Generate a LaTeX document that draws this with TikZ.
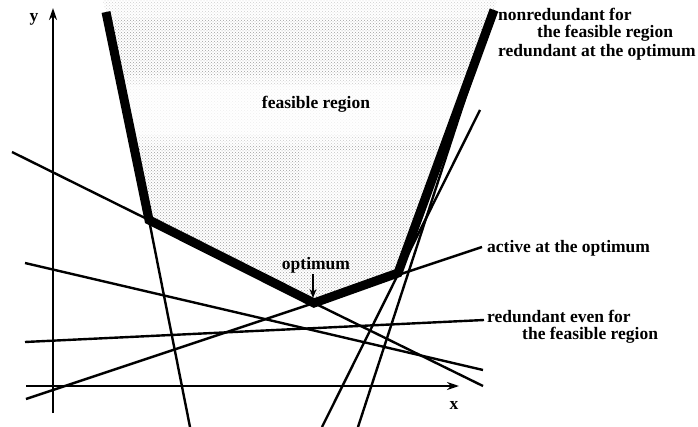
\documentclass[tikz,border=0pt]{standalone}
\usepackage{fontspec}
\setmainfont{Liberation Serif}
\usetikzlibrary{patterns,arrows.meta}
\begin{document}
\begin{tikzpicture}[x=1pt,y=-1pt,
  thinline/.style={line width=2.4pt},
  thickline/.style={line width=9pt,line join=miter},
  axisline/.style={line width=2.4pt,-{Stealth[length=12pt,width=8pt]}},
  lbl/.style={font=\bfseries\fontsize{17.5}{20}\selectfont,inner sep=0pt}]
\useasboundingbox (0,0) rectangle (698,427);
% key points
\coordinate (TL) at (106,12);
\coordinate (LV) at (149,220);
\coordinate (OPT) at (314,303);
\coordinate (RV) at (398,273);
\coordinate (TR) at (494,10);
% feasible region shading
\begin{scope}
  \clip (103,0) -- (TL) -- (LV) -- (OPT) -- (RV) -- (TR) -- (497,0) -- cycle;
  \fill[pattern=crosshatch dots,pattern color=gray!75] (100,0) rectangle (500,310);
  \fill[white,opacity=0.45] (100,75) rectangle (500,145);
  \fill[white,opacity=0.7] (100,85) rectangle (500,135);
  \fill[white,opacity=0.5] (100,0) rectangle (500,18);
  \fill[white,opacity=0.4] (300,150) rectangle (500,200);
\end{scope}
% line end points
\coordinate (B1) at (190,427);
\coordinate (A1) at (12,152);
\coordinate (E1) at (483,386);
\coordinate (A2) at (25,263);
\coordinate (E2) at (483,370);
\coordinate (A3) at (25,342);
\coordinate (E3) at (484,320);
\coordinate (A4) at (26,399);
\coordinate (E4) at (482,247);
\coordinate (B6) at (322,427);
\coordinate (E6) at (480,110);
\coordinate (B7) at (358,427);
% axes
\coordinate (X0) at (26,386);
\coordinate (X1) at (459,386);
\coordinate (Y0) at (53,413);
\coordinate (Y1) at (53,8);
\draw[axisline] (X0) -- (X1);
\draw[axisline] (Y0) -- (Y1);
\node[lbl] (xl) at (454,405) {x};
\node[lbl] (yl) at (34,19) {y};
% thin constraint lines
\draw[thinline] (LV) -- (B1);
\draw[thinline] (A1) -- (LV);
\draw[thinline] (OPT) -- (E1);
\draw[thinline] (A2) -- (E2);
\draw[thinline] (A3) -- (E3);
\draw[thinline] (A4) -- (E4);
\draw[thinline] (B6) -- (E6);
\draw[thinline] (B7) -- (TR);
% thick boundary
\draw[thickline] (TL) -- (LV) -- (OPT) -- (RV) -- (TR);
% labels
\node[lbl,anchor=west] (n1) at (498,14) {nonredundant for};
\node[lbl,anchor=west] (n2) at (537,33) {the feasible region};
\node[lbl,anchor=west] (n3) at (498,52) {redundant at the optimum};
\node[lbl,anchor=west] (act) at (487,248) {active at the optimum};
\node[lbl,anchor=west] (r1) at (487,316) {redundant even for};
\node[lbl,anchor=west] (r2) at (522,335) {the feasible region};
\node[lbl] (fr) at (316,104) {feasible region};
\node[lbl] (op) at (316,265) {optimum};
\draw[line width=2pt,-{Stealth[length=9pt,width=7pt]}] (313,274) -- (313,298);
\end{tikzpicture}
\end{document}
